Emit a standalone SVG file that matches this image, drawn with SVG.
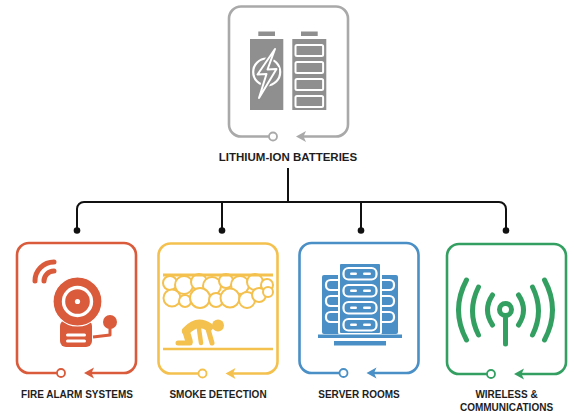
<svg xmlns="http://www.w3.org/2000/svg" width="574" height="416" viewBox="0 0 574 416">
  <style>
    .frame{fill:none;stroke:currentColor;stroke-width:2.6;stroke-linecap:round;stroke-linejoin:round}
    .port{fill:#fff;stroke:currentColor;stroke-width:1.8}
    .tip{fill:currentColor}
    .label{font-family:"Liberation Sans",Arial,sans-serif;font-weight:bold;font-size:10px;fill:#1e1e1e;text-anchor:middle}
    .title{font-size:11.5px}
    .link{fill:none;stroke:#111;stroke-width:2}
    .dot{fill:#111}
    .wave{fill:none;stroke-width:5;stroke-linecap:round}
    .puff{fill:#fff;stroke:#F4C14F;stroke-width:2}
    .slot{fill:none;stroke:#fff;stroke-width:2.2}
    .cell{fill:#8f8f8f;stroke:#fff;stroke-width:2}
  </style>
  <defs>
    <!-- rounded frame with an open port on the left and an arrow on the right of the bottom edge -->
    <g id="frame">
      <path class="frame" d="M74,130 H107 A12,12 0 0 0 119,118 V12 A12,12 0 0 0 107,0 H12 A12,12 0 0 0 0,12 V118 A12,12 0 0 0 12,130 H40"/>
      <circle class="port" cx="44" cy="130" r="4"/>
      <path class="tip" d="M67,130 L77,124.5 L74.5,130 L77,135.5 Z"/>
    </g>
  </defs>

  <!-- connectors -->
  <g id="connectors">
    <path class="link" d="M288,168 V202"/>
    <path class="link" d="M77,230 V209 A7,7 0 0 1 84,202 H499 A7,7 0 0 1 506,209 V230"/>
    <path class="link" d="M222,202 V230 M361,202 V230"/>
    <circle class="dot" cx="77" cy="230.5" r="3.3"/>
    <circle class="dot" cx="222" cy="230.5" r="3.3"/>
    <circle class="dot" cx="361" cy="230.5" r="3.3"/>
    <circle class="dot" cx="506" cy="230.5" r="3.3"/>
  </g>

  <!-- lithium-ion batteries -->
  <g id="lithium-ion-batteries">
    <use href="#frame" x="229" y="6.5" color="#a9a9a9"/>
    <g fill="#8f8f8f">
      <rect x="258.3" y="31.5" width="16.7" height="4.5"/>
      <rect x="250" y="39" width="33.3" height="71"/>
      <rect x="301" y="31.5" width="16.7" height="4.5"/>
      <rect x="292.3" y="39" width="34" height="71"/>
    </g>
    <circle cx="266.7" cy="72" r="13.5" fill="none" stroke="#fff" stroke-width="2.2"/>
    <path d="M275,49 L257.5,74.5 L266.5,74 L259,98 L276.5,69 L267.5,69.5 Z" fill="#8f8f8f" stroke="#8f8f8f" stroke-width="5" stroke-linejoin="round"/>
    <path d="M275,49 L257.5,74.5 L266.5,74 L259,98 L276.5,69 L267.5,69.5 Z" fill="#8f8f8f" stroke="#fff" stroke-width="2" stroke-linejoin="round"/>
    <rect class="cell" x="295.5" y="45" width="27.6" height="11" rx="1.5"/>
    <rect class="cell" x="295.5" y="62" width="27.6" height="11" rx="1.5"/>
    <rect class="cell" x="295.5" y="79" width="27.6" height="11" rx="1.5"/>
    <rect class="cell" x="295.5" y="96" width="27.6" height="11" rx="1.5"/>
    <text class="label title" x="288" y="161">LITHIUM-ION BATTERIES</text>
  </g>

  <!-- fire alarm systems -->
  <g id="fire-alarm-systems">
    <use href="#frame" x="17" y="243" color="#D95B3C"/>
    <g fill="#D95B3C">
      <path class="wave" stroke="#D95B3C" stroke-width="5.5" d="M35,281 A19,19 0 0 1 54,262"/>
      <path class="wave" stroke="#D95B3C" stroke-width="5.5" d="M44,281 A10,10 0 0 1 54,271"/>
      <rect x="60" y="320" width="32" height="27" rx="6"/>
      <rect x="66" y="333.5" width="20" height="3" rx="1.5" fill="#fff"/>
      <rect x="66" y="339.5" width="20" height="3" rx="1.5" fill="#fff"/>
      <circle cx="77.5" cy="301.5" r="24.5" stroke="#fff" stroke-width="1.2"/>
      <circle cx="77.5" cy="301.5" r="14" fill="none" stroke="#fff" stroke-width="3.4"/>
      <circle cx="77.5" cy="301.5" r="2.6" fill="#fff"/>
      <circle cx="110" cy="322" r="7"/>
      <path d="M110,328 V335 L93,337" fill="none" stroke="#D95B3C" stroke-width="3" stroke-linejoin="round"/>
    </g>
    <text class="label" x="77" y="398">FIRE ALARM SYSTEMS</text>
  </g>

  <!-- smoke detection -->
  <g id="smoke-detection">
    <use href="#frame" x="158.5" y="243.5" color="#F4C14F"/>
    <!-- smoke puffs under the ceiling -->
    <circle class="puff" cx="170" cy="283" r="7"/>
    <circle class="puff" cx="184" cy="285" r="9"/>
    <circle class="puff" cx="199" cy="282" r="8"/>
    <circle class="puff" cx="212" cy="286" r="9"/>
    <circle class="puff" cx="226" cy="281" r="7"/>
    <circle class="puff" cx="240" cy="285" r="9"/>
    <circle class="puff" cx="255" cy="282" r="8"/>
    <circle class="puff" cx="267" cy="285" r="6"/>
    <circle class="puff" cx="172" cy="298" r="8.5"/>
    <circle class="puff" cx="185" cy="301" r="6"/>
    <circle class="puff" cx="200" cy="298" r="10"/>
    <circle class="puff" cx="216" cy="300" r="7"/>
    <circle class="puff" cx="230" cy="298" r="9.5"/>
    <circle class="puff" cx="247" cy="300" r="8"/>
    <circle class="puff" cx="259" cy="295" r="7"/>
    <circle class="puff" cx="268" cy="292" r="5"/>
    <g stroke="#F4C14F" stroke-linecap="round" fill="none">
      <line x1="163" y1="275" x2="273" y2="275" stroke-width="3" stroke-linecap="butt"/>
      <line x1="163" y1="349" x2="273" y2="349" stroke-width="2.5" stroke-linecap="butt"/>
      <path d="M186,331 Q197,319 209,327" stroke-width="8.5"/>
      <path d="M208,329 L212,343" stroke-width="5"/>
      <path d="M199,329 L201,343" stroke-width="4.5"/>
      <path d="M186,331 L189,341" stroke-width="7.5"/>
      <path d="M190,343 H178" stroke-width="5"/>
    </g>
    <circle cx="218" cy="325.5" r="6" fill="#F4C14F"/>
    <text class="label" x="218" y="398">SMOKE DETECTION</text>
  </g>

  <!-- server rooms -->
  <g id="server-rooms">
    <use href="#frame" x="299.5" y="243" color="#4A8FC6"/>
    <g fill="#4A8FC6">
      <rect x="322" y="275" width="21" height="59" rx="2"/>
      <rect x="377" y="275" width="21" height="59" rx="2"/>
      <rect class="slot" x="326" y="280" width="20" height="10" rx="4.5"/>
      <rect class="slot" x="326" y="296" width="20" height="10" rx="4.5"/>
      <rect class="slot" x="326" y="312" width="20" height="10" rx="4.5"/>
      <rect class="slot" x="374" y="280" width="20" height="10" rx="4.5"/>
      <rect class="slot" x="374" y="296" width="20" height="10" rx="4.5"/>
      <rect class="slot" x="374" y="312" width="20" height="10" rx="4.5"/>
      <rect x="339" y="263" width="42" height="71" rx="2" stroke="#fff" stroke-width="2"/>
      <rect class="slot" x="343.5" y="268" width="33" height="11.5" rx="5"/>
      <rect class="slot" x="343.5" y="285" width="33" height="11.5" rx="5"/>
      <rect class="slot" x="343.5" y="302" width="33" height="11.5" rx="5"/>
      <rect class="slot" x="343.5" y="319" width="33" height="11.5" rx="5"/>
      <g fill="#fff">
        <rect x="350" y="272.5" width="7" height="2.6" rx="1.3"/>
        <rect x="363" y="272.5" width="8" height="2.6" rx="1.3"/>
        <rect x="350" y="289.5" width="7" height="2.6" rx="1.3"/>
        <rect x="363" y="289.5" width="8" height="2.6" rx="1.3"/>
        <rect x="350" y="306.5" width="7" height="2.6" rx="1.3"/>
        <rect x="363" y="306.5" width="8" height="2.6" rx="1.3"/>
        <rect x="350" y="323.5" width="7" height="2.6" rx="1.3"/>
        <rect x="363" y="323.5" width="8" height="2.6" rx="1.3"/>
      </g>
      <rect x="318" y="334.5" width="84" height="3.5"/>
      <rect x="334" y="341" width="52" height="4.5"/>
    </g>
    <text class="label" x="359" y="398">SERVER ROOMS</text>
  </g>

  <!-- wireless & communications -->
  <g id="wireless-communications">
    <use href="#frame" x="447" y="244" color="#33A062"/>
    <g stroke="#33A062">
      <path class="wave" d="M492.5,295 Q482.5,310 492.5,325"/>
      <path class="wave" d="M478.5,287 Q466.5,311 478.5,335"/>
      <path class="wave" d="M466.5,280 Q450.5,310 466.5,340"/>
      <path class="wave" d="M518.5,295 Q528.5,310 518.5,325"/>
      <path class="wave" d="M532.5,287 Q544.5,311 532.5,335"/>
      <path class="wave" d="M544.5,280 Q560.5,310 544.5,340"/>
      <circle cx="505.5" cy="309.5" r="6" fill="none" stroke-width="5"/>
      <path class="wave" d="M505.5,318 V344"/>
    </g>
    <text class="label" x="506.5" y="398">WIRELESS &amp;</text>
    <text class="label" x="506.5" y="410.5">COMMUNICATIONS</text>
  </g>
</svg>
